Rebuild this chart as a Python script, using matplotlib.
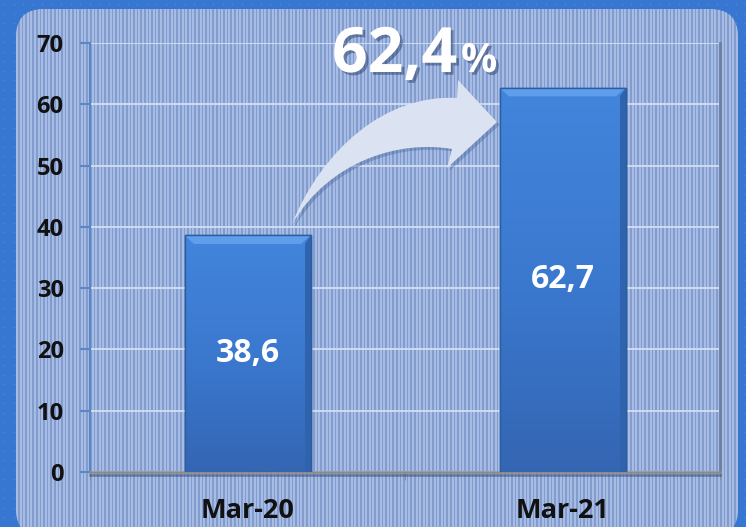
import matplotlib.pyplot as plt
import numpy as np
from matplotlib.patches import FancyBboxPatch, PathPatch, Polygon
from matplotlib.path import Path
from matplotlib.colors import LinearSegmentedColormap
import matplotlib.patheffects as pe

categories = ['Mar-20', 'Mar-21']
values = [38.6, 62.7]
value_labels = ['38,6', '62,7']
growth_label = '62,4'
yticks = [0, 10, 20, 30, 40, 50, 60, 70]

W, H = 746, 527
plt.rcParams['font.family'] = ['Open Sans', 'DejaVu Sans']

fig = plt.figure(figsize=(W / 100, H / 100), dpi=100)
fig.patch.set_facecolor('#3777d2')

# background: dotted blue frame + striped rounded panel (pixel coords)
bg = fig.add_axes([0, 0, 1, 1], zorder=0)
bg.set_xlim(0, W)
bg.set_ylim(H, 0)
bg.axis('off')
gx, gy = np.meshgrid(np.arange(4, W, 9.5), np.arange(4, H, 9.5))
bg.scatter(gx.ravel(), gy.ravel(), s=1.2, color='#4d8ce0', lw=0)
panel = FancyBboxPatch((16, 9), 722, 528, boxstyle='round,pad=0,rounding_size=28',
                       facecolor='#819ccf', edgecolor='none')
bg.add_patch(panel)
xs = np.arange(17, W, 3.6)
stripes = bg.vlines(xs, 0, H, color='#adc0e6', lw=1.3)
stripes.set_clip_path(panel)

# chart
ax = fig.add_axes([90 / W, (H - 472) / H, 630 / W, 429 / H], zorder=1)
ax.set_facecolor('none')
x = np.arange(len(categories))
bw = 0.4
bars = ax.bar(x, values, width=bw, color='#3d7fd7', edgecolor='#2c5d9f', lw=1, zorder=3)

grad = np.linspace(0, 1, 100).reshape(-1, 1)
cmap = LinearSegmentedColormap.from_list('b', ['#3466b3', '#3b79cf', '#4285dc'])
for b, v, lab in zip(bars, values, value_labels):
    x0 = b.get_x()
    im = ax.imshow(grad, extent=(x0, x0 + bw, 0, v), origin='lower', cmap=cmap,
                   aspect='auto', zorder=3.5)
    im.set_clip_path(b)
    # bevel on top and darker right side
    dy = 1.4
    dx = 0.03
    ax.add_patch(Polygon([(x0, v), (x0 + bw, v), (x0 + bw - dx, v - dy), (x0 + dx, v - dy)],
                         closed=True, facecolor='#5f9ded', edgecolor='none', zorder=4))
    ax.add_patch(Polygon([(x0 + bw, v), (x0 + bw, 0), (x0 + bw - dx * 0.6, 0), (x0 + bw - dx * 0.6, v - dy)],
                         closed=True, facecolor='#2f63ad', edgecolor='none', zorder=4))
    ax.add_patch(Polygon([(x0, v), (x0 + bw, v), (x0 + bw, 0), (x0, 0)], closed=True,
                         facecolor='none', edgecolor='#2c5d9f', lw=1, zorder=4.5))
    ax.text(x0 + bw / 2, v / 2, lab, ha='center', va='center', color='white',
            fontsize=23, fontweight='bold', zorder=5)

ax.set_xlim(-0.5, 1.5)
ax.set_ylim(0, 70)
ax.set_yticks(yticks)
ax.set_yticklabels([str(t) for t in yticks], fontsize=17, fontweight='bold', color='#111111')
ax.set_xticks(x)
ax.set_xticklabels(categories, fontsize=19.5, fontweight='bold', color='#111111')
ax.tick_params(axis='x', length=0, pad=19)
ax.set_xticks([-0.5, 0.5, 1.5], minor=True)
ax.tick_params(axis='x', which='minor', length=6, color='#8a8a8a', direction='out')
ax.tick_params(axis='y', length=7, color='#5a86c8', width=1.5, pad=12)
ax.grid(axis='y', color='#d3def3', lw=1.3, zorder=1)
ax.set_axisbelow(True)
ax.spines['top'].set_visible(False)
ax.spines['left'].set_color('#5a86c8')
ax.spines['left'].set_linewidth(1.5)
ax.spines['bottom'].set_color('#8a8a8a')
ax.spines['bottom'].set_linewidth(1.8)
ax.spines['bottom'].set_path_effects([pe.SimpleLineShadow(offset=(0, -2), shadow_color='#2a3d60', alpha=0.5), pe.Normal()])
ax.spines['right'].set_color('#6c7fa3')
ax.spines['right'].set_linewidth(2)

# overlay: curved arrow and growth text (pixel coords)
ov = fig.add_axes([0, 0, 1, 1], zorder=3)
ov.set_xlim(0, W)
ov.set_ylim(H, 0)
ov.axis('off')
ov.patch.set_alpha(0)
verts = [(292, 224), (322, 150), (385, 94), (457, 98),
         (458, 80), (497, 122), (447, 168), (452, 149),
         (400, 140), (330, 160), (292, 224), (292, 224)]
codes = [Path.MOVETO, Path.CURVE4, Path.CURVE4, Path.CURVE4,
         Path.LINETO, Path.LINETO, Path.LINETO, Path.LINETO,
         Path.CURVE4, Path.CURVE4, Path.CURVE4, Path.CLOSEPOLY]
arrow = PathPatch(Path(verts, codes), facecolor='#dbe2f2', edgecolor='none')
arrow.set_path_effects([pe.SimplePatchShadow(offset=(2, -2), shadow_rgbFace='#3a5a90', alpha=0.35), pe.Normal()])
ov.add_patch(arrow)

shadow = [pe.withSimplePatchShadow(offset=(2, -2), shadow_rgbFace='#2a3f6a', alpha=0.5)]
ov.text(332, 72, growth_label, fontsize=45, fontweight='bold', color='white',
        ha='left', va='baseline', path_effects=shadow)
ov.text(461, 72, '%', fontsize=29, fontweight='bold', color='white',
        ha='left', va='baseline', path_effects=shadow)

fig.savefig('out.png', dpi=100)
